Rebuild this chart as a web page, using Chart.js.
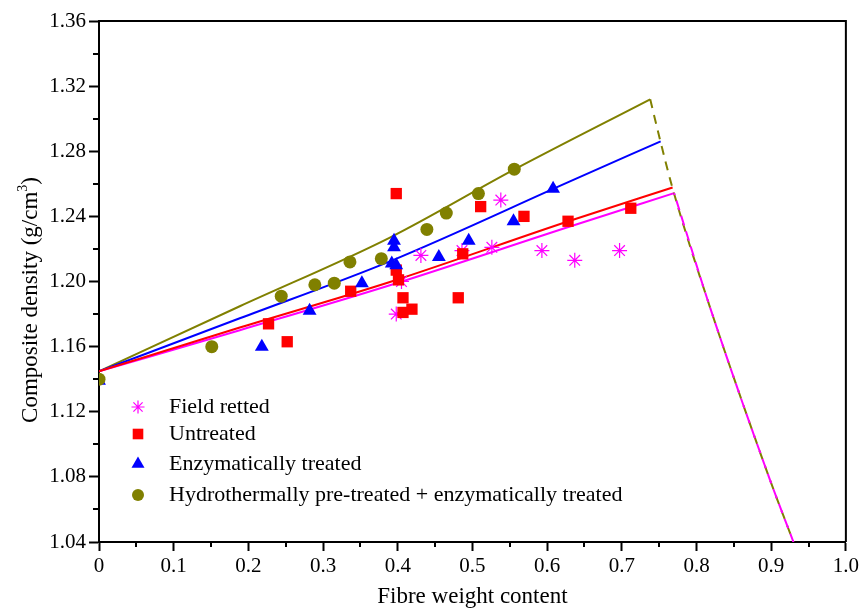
<!DOCTYPE html>
<html>
<head>
<meta charset="utf-8">
<script src="https://cdn.jsdelivr.net/npm/chart.js@4/dist/chart.umd.min.js"></script>
<style>
html,body{margin:0;padding:0;background:#fff;}
#wrap{width:862px;height:615px;}
</style>
</head>
<body>
<div id="wrap"><canvas id="c" width="862" height="615"></canvas></div>
<script>
// ---------- tick values ----------
const xTickValues = [0, 0.1, 0.2, 0.3, 0.4, 0.5, 0.6, 0.7, 0.8, 0.9, 1.0];
const xMinorValues = [0.05, 0.15, 0.25, 0.35, 0.45, 0.55, 0.65, 0.75, 0.85, 0.95];
const yTickValues = [1.04, 1.08, 1.12, 1.16, 1.20, 1.24, 1.28, 1.32, 1.36];
const yMinorValues = [1.06, 1.10, 1.14, 1.18, 1.22, 1.26, 1.30, 1.34];

// ---------- series names ----------
const seriesNames = ['Field retted', 'Untreated', 'Enzymatically treated', 'Hydrothermally pre-treated + enzymatically treated'];

// ---------- measured points ----------
const fieldRettedX = [0.538, 0.431, 0.486, 0.526, 0.593, 0.637, 0.697, 0.405, 0.398];
const fieldRettedY = [1.250, 1.216, 1.219, 1.221, 1.219, 1.213, 1.219, 1.200, 1.180];

const untreatedX = [0.398, 0.511, 0.569, 0.628, 0.712, 0.487, 0.398, 0.401, 0.407, 0.419, 0.407, 0.481, 0.227, 0.252, 0.337];
const untreatedY = [1.254, 1.246, 1.240, 1.237, 1.245, 1.217, 1.207, 1.201, 1.190, 1.183, 1.181, 1.190, 1.174, 1.163, 1.194];

const enzymaticX = [0, 0.218, 0.282, 0.352, 0.395, 0.395, 0.392, 0.398, 0.455, 0.495, 0.555, 0.608];
const enzymaticY = [1.139, 1.160, 1.182, 1.199, 1.225, 1.221, 1.211, 1.210, 1.215, 1.225, 1.237, 1.257];

const hydroX = [0, 0.151, 0.244, 0.289, 0.315, 0.336, 0.378, 0.439, 0.465, 0.508, 0.556];
const hydroY = [1.140, 1.160, 1.191, 1.198, 1.199, 1.212, 1.214, 1.232, 1.242, 1.254, 1.269];

// ---------- model curves ----------
const fieldLineX = [0, 0.1885, 0.3895, 0.6306, 0.770];
const fieldLineY = [1.1448, 1.1701, 1.1977, 1.2338, 1.2543];
const untreatedLineX = [0, 0.1885, 0.3895, 0.6306, 0.768];
const untreatedLineY = [1.1448, 1.1717, 1.1997, 1.2373, 1.2577];
const enzymaticLineX = [0, 0.1885, 0.3895, 0.6306, 0.752];
const enzymaticLineY = [1.1448, 1.1774, 1.2124, 1.2615, 1.2861];
const hydroLineX = [0, 0.1885, 0.3895, 0.5556, 0.738];
const hydroLineY = [1.1448, 1.1848, 1.2270, 1.2687, 1.3119];

// dashed (upper limit) curves
const hydroDashX = [0.738, 0.752, 0.768, 0.818, 0.8986, 0.9298];
const hydroDashY = [1.3119, 1.2855, 1.2572, 1.1843, 1.0779, 1.040];
const fieldDashX = [0.770, 0.818, 0.8986, 0.9298];
const fieldDashY = [1.2543, 1.1843, 1.0779, 1.040];

// ---------- colours ----------
const cMagenta = '#FF00FF';
const cRed = '#FF0000';
const cBlue = '#0000FF';
const cOlive = '#808000';

const FONT = 'Liberation Serif';

function pts(xs, ys) { return xs.map((x, i) => ({x: x, y: ys[i]})); }

function lineDs(xs, ys, color, dash, order, dashOffset) {
  return {
    type: 'line', data: pts(xs, ys), borderColor: color, backgroundColor: color,
    borderWidth: 2, pointRadius: 0, fill: false, showLine: true,
    cubicInterpolationMode: 'monotone', borderDash: dash || [], borderDashOffset: dashOffset || 0, order: order
  };
}

const datasets = [
  // markers (lower order -> drawn on top)
  { label: seriesNames[3], data: pts(hydroX, hydroY), pointStyle: 'circle', pointRadius: 6.5,
    backgroundColor: cOlive, borderColor: cOlive, borderWidth: 0, order: 1 },
  { label: seriesNames[2], data: pts(enzymaticX, enzymaticY), pointStyle: 'triangle', pointRadius: 8,
    backgroundColor: cBlue, borderColor: cBlue, borderWidth: 0, order: 2 },
  { label: seriesNames[1], data: pts(untreatedX, untreatedY), pointStyle: 'rect', pointRadius: 8,
    backgroundColor: cRed, borderColor: cRed, borderWidth: 0, order: 3 },
  { label: seriesNames[0], data: pts(fieldRettedX, fieldRettedY), pointStyle: 'star', pointRadius: 7.5,
    backgroundColor: cMagenta, borderColor: cMagenta, borderWidth: 1.2, order: 4 },
  // lines
  lineDs(fieldDashX, fieldDashY, cMagenta, [10, 6], 5, 8),
  lineDs(hydroDashX, hydroDashY, cOlive, [9, 7], 6, 0),
  lineDs(untreatedLineX, untreatedLineY, cRed, null, 7),
  lineDs(fieldLineX, fieldLineY, cMagenta, null, 8),
  lineDs(enzymaticLineX, enzymaticLineY, cBlue, null, 9),
  lineDs(hydroLineX, hydroLineY, cOlive, null, 10)
];

// ---------- plugin: frame, minor ticks, y title, legend ----------
const extras = {
  id: 'extras',
  afterDraw(chart) {
    const ctx = chart.ctx;
    const a = chart.chartArea;
    const xs = chart.scales.x, ys = chart.scales.y;
    ctx.save();
    ctx.strokeStyle = '#000';
    ctx.lineWidth = 2;
    // top and right frame
    ctx.beginPath();
    ctx.moveTo(a.left, a.top); ctx.lineTo(a.right, a.top); ctx.lineTo(a.right, a.bottom);
    ctx.stroke();
    // minor ticks
    ctx.beginPath();
    xMinorValues.forEach(v => { const p = Math.round(xs.getPixelForValue(v)); ctx.moveTo(p, a.bottom); ctx.lineTo(p, a.bottom + 5); });
    yMinorValues.forEach(v => { const p = Math.round(ys.getPixelForValue(v)); ctx.moveTo(a.left, p); ctx.lineTo(a.left - 6, p); });
    ctx.stroke();

    // y-axis title with superscript
    ctx.fillStyle = '#000';
    ctx.translate(31, 300);
    ctx.rotate(-Math.PI / 2);
    const f1 = '23px "' + FONT + '"', f2 = '14px "' + FONT + '"';
    const t1 = 'Composite density (g/cm', t2 = '3', t3 = ')';
    ctx.font = f1; const w1 = ctx.measureText(t1).width, w3 = ctx.measureText(t3).width;
    ctx.font = f2; const w2 = ctx.measureText(t2).width;
    let x0 = -(w1 + w2 + w3) / 2;
    ctx.textBaseline = 'alphabetic'; ctx.textAlign = 'left';
    ctx.font = f1; ctx.fillText(t1, x0, 6);
    ctx.font = f2; ctx.fillText(t2, x0 + w1, -4);
    ctx.font = f1; ctx.fillText(t3, x0 + w1 + w2, 6);
    ctx.restore();

    // legend
    const rows = [407, 434, 464, 495];
    const legendSets = [3, 2, 1, 0].map(i => chart.data.datasets[i]);
    ctx.save();
    ctx.font = '22px "' + FONT + '"';
    ctx.textBaseline = 'middle';
    ctx.fillStyle = '#000';
    legendSets.forEach((ds, i) => {
      const y = rows[i];
      const r = ds.pointStyle === 'star' ? 6.5 : ds.pointStyle === 'circle' ? 6 : 7.5;
      ctx.fillStyle = ds.backgroundColor; ctx.strokeStyle = ds.borderColor;
      ctx.lineWidth = ds.borderWidth || 1;
      Chart.helpers.drawPoint(ctx, {pointStyle: ds.pointStyle, radius: r, rotation: 0, borderWidth: ds.borderWidth}, 138, y);
      ctx.fillStyle = '#000';
      ctx.fillText(ds.label, 169, y);
    });
    ctx.restore();
  }
};

new Chart(document.getElementById('c'), {
  type: 'scatter',
  data: { datasets: datasets },
  options: {
    responsive: false,
    animation: false,
    devicePixelRatio: 1,
    layout: { padding: { top: 21, right: 16, left: 0, bottom: 0 } },
    plugins: { legend: { display: false }, tooltip: { enabled: false } },
    scales: {
      x: {
        type: 'linear', position: 'bottom', min: 0, max: 1,
        afterBuildTicks: s => { s.ticks = xTickValues.map(v => ({ value: v })); },
        afterFit: s => { s.height = 73; },
        ticks: { color: '#000', font: { family: FONT, size: 21 }, padding: 3, maxRotation: 0, autoSkip: false,
                 callback: v => (v === 0 ? '0' : Number(v).toFixed(1)) },
        grid: { drawOnChartArea: false, drawTicks: true, tickLength: 9, tickWidth: 2, tickColor: '#000' },
        border: { display: true, color: '#000', width: 2 },
        title: { display: true, text: 'Fibre weight content', color: '#000', font: { family: FONT, size: 23 }, padding: { top: 0, bottom: 4 } }
      },
      y: {
        type: 'linear', position: 'left', min: 1.04, max: 1.36,
        afterBuildTicks: s => { s.ticks = yTickValues.map(v => ({ value: v })); },
        afterFit: s => { s.width = 99; },
        ticks: { color: '#000', font: { family: FONT, size: 21 }, padding: 3, autoSkip: false,
                 callback: v => Number(v).toFixed(2) },
        grid: { drawOnChartArea: false, drawTicks: true, tickLength: 10, tickWidth: 2, tickColor: '#000' },
        border: { display: true, color: '#000', width: 2 },
        title: { display: false }
      }
    }
  },
  plugins: [extras]
});
</script>
</body>
</html>
